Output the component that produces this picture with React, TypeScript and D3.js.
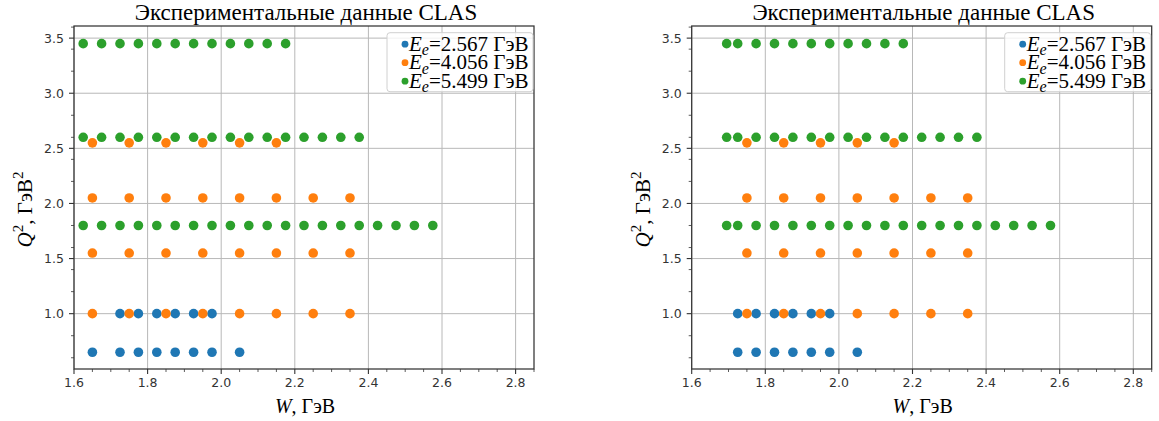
import React from 'react';
import * as d3 from 'd3';

const xDomain: [number, number] = [1.6, 2.85];
const yDomain: [number, number] = [0.498, 3.61];
const xTickValues = [1.6, 1.8, 2.0, 2.2, 2.4, 2.6, 2.8];
const yTickValues = [1.0, 1.5, 2.0, 2.5, 3.0, 3.5];
const seriesEnergies = ['2.567', '4.056', '5.499'];
const seriesColors = ['#1f77b4', '#ff7f0e', '#2ca02c'];
const titleText = 'Экспериментальные данные CLAS';

// Each row: [Q², list of W values]
type Row = [number, number[]];

const leftE2567: Row[] = [
  [0.65, [1.65, 1.725, 1.775, 1.825, 1.875, 1.925, 1.975, 2.05]],
  [1.0, [1.725, 1.775, 1.825, 1.875, 1.925, 1.975]],
];
const leftE4056: Row[] = [
  [1.0, [1.65, 1.75, 1.85, 1.95, 2.05, 2.15, 2.25, 2.35]],
  [1.55, [1.65, 1.75, 1.85, 1.95, 2.05, 2.15, 2.25, 2.35]],
  [2.05, [1.65, 1.75, 1.85, 1.95, 2.05, 2.15, 2.25, 2.35]],
  [2.55, [1.65, 1.75, 1.85, 1.95, 2.05, 2.15]],
];
const leftE5499: Row[] = [
  [1.8, [1.625, 1.675, 1.725, 1.775, 1.825, 1.875, 1.925, 1.975, 2.025, 2.075, 2.125, 2.175, 2.225, 2.275, 2.325, 2.375, 2.425, 2.475, 2.525, 2.575]],
  [2.6, [1.625, 1.675, 1.725, 1.775, 1.825, 1.875, 1.925, 1.975, 2.025, 2.075, 2.125, 2.175, 2.225, 2.275, 2.325, 2.375]],
  [3.45, [1.625, 1.675, 1.725, 1.775, 1.825, 1.875, 1.925, 1.975, 2.025, 2.075, 2.125, 2.175]],
];

const rightE2567: Row[] = [
  [0.65, [1.725, 1.775, 1.825, 1.875, 1.925, 1.975, 2.05]],
  [1.0, [1.725, 1.775, 1.825, 1.875, 1.925, 1.975]],
];
const rightE4056: Row[] = [
  [1.0, [1.75, 1.85, 1.95, 2.05, 2.15, 2.25, 2.35]],
  [1.55, [1.75, 1.85, 1.95, 2.05, 2.15, 2.25, 2.35]],
  [2.05, [1.75, 1.85, 1.95, 2.05, 2.15, 2.25, 2.35]],
  [2.55, [1.75, 1.85, 1.95, 2.05, 2.15]],
];
const rightE5499: Row[] = [
  [1.8, [1.695, 1.725, 1.775, 1.825, 1.875, 1.925, 1.975, 2.025, 2.075, 2.125, 2.175, 2.225, 2.275, 2.325, 2.375, 2.425, 2.475, 2.525, 2.575]],
  [2.6, [1.695, 1.725, 1.775, 1.825, 1.875, 1.925, 1.975, 2.025, 2.075, 2.125, 2.175, 2.225, 2.275, 2.325, 2.375]],
  [3.45, [1.695, 1.725, 1.775, 1.825, 1.875, 1.925, 1.975, 2.025, 2.075, 2.125, 2.175]],
];

const SERIF = '"Liberation Serif", "Times New Roman", serif';
const SANS = '"DejaVu Sans", sans-serif';

function Panel({ left, right, top, bottom, series, yLabelX }: {
  left: number; right: number; top: number; bottom: number; series: Row[][]; yLabelX: number;
}) {
  const x = d3.scaleLinear().domain(xDomain).range([left, right]);
  const y = d3.scaleLinear().domain(yDomain).range([bottom, top]);
  const xMinor = x.ticks(25).filter(v => !xTickValues.some(t => Math.abs(t - v) < 1e-6));
  const yMinor = y.ticks(12).filter(v => !yTickValues.some(t => Math.abs(t - v) < 1e-6) && v >= yDomain[0]);
  const gridColor = '#b8b8b8';
  const axisColor = '#333';
  const cx = (left + right) / 2;
  const cy = (top + bottom) / 2;
  const legW = 146, legH = 59;
  const legX = right - legW - 1, legY = top + 6.7;
  return (
    <g>
      {xTickValues.map(v => (
        <line key={'gx' + v} x1={x(v)} x2={x(v)} y1={top} y2={bottom} stroke={gridColor} strokeWidth={1} />
      ))}
      {yTickValues.map(v => (
        <line key={'gy' + v} x1={left} x2={right} y1={y(v)} y2={y(v)} stroke={gridColor} strokeWidth={1} />
      ))}
      {series.map((rows, si) => (
        <g key={'s' + si} fill={seriesColors[si]}>
          {rows.flatMap(([q, ws]) => ws.map(w => (
            <circle key={q + '_' + w} cx={x(w)} cy={y(q)} r={4.8} />
          )))}
        </g>
      ))}
      <rect x={left} y={top} width={right - left} height={bottom - top} fill="none" stroke={axisColor} strokeWidth={1.25} />
      {xTickValues.map(v => (
        <g key={'tx' + v}>
          <line x1={x(v)} x2={x(v)} y1={bottom} y2={bottom + 5} stroke={axisColor} strokeWidth={1.1} />
          <text x={x(v)} y={bottom + 18} textAnchor="middle" fontFamily={SANS} fontSize={12.5} fill="#333">{v.toFixed(1)}</text>
        </g>
      ))}
      {xMinor.map(v => (
        <line key={'mx' + v} x1={x(v)} x2={x(v)} y1={bottom} y2={bottom + 3} stroke={axisColor} strokeWidth={0.8} />
      ))}
      {yTickValues.map(v => (
        <g key={'ty' + v}>
          <line x1={left} x2={left - 5} y1={y(v)} y2={y(v)} stroke={axisColor} strokeWidth={1.1} />
          <text x={left - 10} y={y(v) + 4.5} textAnchor="end" fontFamily={SANS} fontSize={12.5} fill="#333">{v.toFixed(1)}</text>
        </g>
      ))}
      {yMinor.map(v => (
        <line key={'my' + v} x1={left} x2={left - 3} y1={y(v)} y2={y(v)} stroke={axisColor} strokeWidth={0.8} />
      ))}
      <text x={cx + 2} y={top - 6} textAnchor="middle" fontFamily={SERIF} fontSize={23} fill="#000">{titleText}</text>
      <text x={cx + 1} y={bottom + 44} textAnchor="middle" fontFamily={SERIF} fontSize={20} fill="#000">
        <tspan fontStyle="italic">W</tspan><tspan>, ГэВ</tspan>
      </text>
      <text transform={`translate(${yLabelX},${cy + 12}) rotate(-90)`} textAnchor="middle" fontFamily={SERIF} fontSize={21} fill="#000">
        <tspan fontStyle="italic">Q</tspan><tspan fontSize={15} dy={-9}>2</tspan><tspan dy={9}>, ГэВ</tspan><tspan fontSize={15} dy={-9}>2</tspan>
      </text>
      <rect x={legX} y={legY} width={legW} height={legH} rx={3} fill="#fff" fillOpacity={0.8} stroke="#d0d0d0" strokeWidth={1} />
      {seriesEnergies.map((e, i) => {
        const ry = legY + 11.5 + i * 18.5;
        return (
          <g key={'lg' + i}>
            <circle cx={legX + 18} cy={ry} r={3.4} fill={seriesColors[i]} />
            <text x={legX + 22} y={ry + 6.5} fontFamily={SERIF} fontSize={21} fill="#000">
              <tspan fontStyle="italic">E</tspan><tspan fontStyle="italic" fontSize={16} dy={4.5}>e</tspan><tspan dy={-4.5}>={e} ГэВ</tspan>
            </text>
          </g>
        );
      })}
    </g>
  );
}

export default function App() {
  return (
    <svg width={1159} height={421} style={{ position: 'absolute', left: 0, top: 0, background: '#fff' }}>
      <rect width={1159} height={421} fill="#fff" />
      <Panel left={74} right={534} top={26} bottom={369} series={[leftE2567, leftE4056, leftE5499]} yLabelX={32} />
      <Panel left={691.7} right={1151.7} top={26} bottom={369} series={[rightE2567, rightE4056, rightE5499]} yLabelX={650} />
    </svg>
  );
}
